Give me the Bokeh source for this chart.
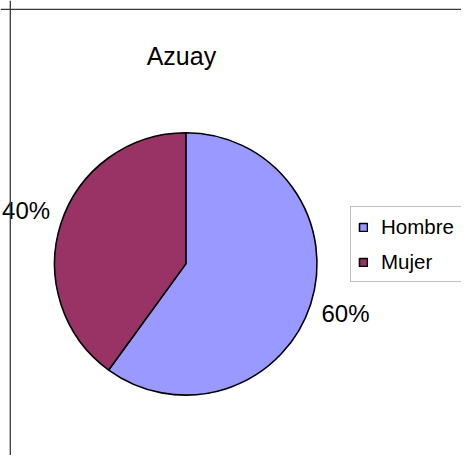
import math
from bokeh.plotting import figure
from bokeh.models import Range1d, Span, Label, Legend, LegendItem, ColumnDataSource
from bokeh.core.properties import value
from bokeh.embed import file_html
from bokeh.resources import INLINE

title_text = "Azuay"
categories = ["Hombre", "Mujer"]
values = [60, 40]
colors = ["#9999FF", "#993366"]

W, H = 461, 455
p = figure(width=W, height=H, output_backend="svg", toolbar_location=None,
           x_range=Range1d(0, W), y_range=Range1d(0, H), min_border=0)
p.axis.visible = False
p.grid.visible = False
p.outline_line_color = None
p.background_fill_color = "white"

cx, cy, r = 185.3, 191.6, 131.2
total = sum(values)
starts, ends, mids = [], [], []
a = math.pi / 2
for v in values:
    sweep = 2 * math.pi * v / total
    starts.append(a - sweep)
    ends.append(a)
    mids.append(a - sweep / 2)
    a -= sweep

src = ColumnDataSource(dict(start=starts, end=ends, color=colors, cat=categories,
                            x=[cx] * len(values), y=[cy] * len(values)))
w = p.wedge(x="x", y="y", radius=r, start_angle="start", end_angle="end",
            fill_color="color", line_color="black", line_width=1.6, source=src)

labels = [f"{round(100 * v / total)}%" for v in values]
lr = r * 1.28
lx = [cx + lr * math.cos(m) for m in mids]
ly = [cy + lr * math.sin(m) + 2 for m in mids]
p.text(x=lx, y=ly, text=labels, text_align="center", text_baseline="middle",
       text_font=value("Liberation Sans"), text_font_size="24px", text_color="black")

p.add_layout(Label(x=180.9, y=399.5, text=title_text, text_align="center",
                   text_baseline="alphabetic", text_font="Liberation Sans",
                   text_font_size="25px", text_color="black"))

p.add_layout(Span(location=9.8, dimension="height", line_color="#3a3a3a", line_width=1.3))
p.add_layout(Span(location=446.2, dimension="width", line_color="#3a3a3a", line_width=1.3))

items = [LegendItem(label=c, renderers=[w], index=i) for i, c in enumerate(categories)]
legend = Legend(items=items, location=(350, 173), orientation="vertical",
                border_line_color="#808080", border_line_width=1,
                background_fill_color="white", background_fill_alpha=1,
                glyph_width=10, glyph_height=10, label_standoff=13,
                label_text_font="Liberation Sans", label_text_font_size="20.5px",
                label_text_color="black",
                label_height=25, spacing=10, padding=7, margin=0)
p.add_layout(legend, "center")

open("out.html", "w").write(file_html(p, INLINE))
